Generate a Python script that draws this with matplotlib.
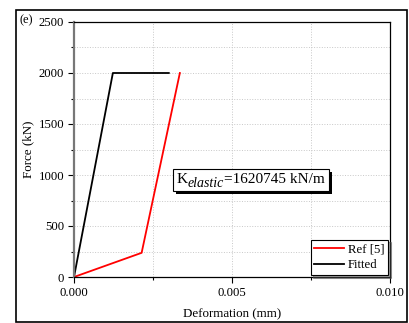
import matplotlib
matplotlib.use('Agg')
import matplotlib.pyplot as plt
from matplotlib.patches import Rectangle
from matplotlib.ticker import MultipleLocator, FormatStrFormatter
from matplotlib.transforms import offset_copy

plt.rcParams['font.family'] = 'Liberation Serif'

# values
ref_x = [0.0, 0.00214, 0.00335]
ref_y = [0.0, 237.0, 2000.0]
fit_x = [0.0, 0.00123, 0.0030]
fit_y = [0.0, 2000.0, 2000.0]
k_parts = ['K', 'elastic', '=1620745 kN/m']

W, H = 410, 323
fig = plt.figure(figsize=(W / 100, H / 100), dpi=100)
ax = fig.add_axes([74 / W, 1 - 277 / H, 316 / W, 255 / H])

ax.plot(ref_x, ref_y, color='red', lw=1.3, label='Ref [5]')
ax.plot(fit_x, fit_y, color='black', lw=1.3, label='Fitted')

ax.set_xlim(0, 0.010)
ax.set_ylim(0, 2500)
ax.xaxis.set_major_locator(MultipleLocator(0.005))
ax.xaxis.set_minor_locator(MultipleLocator(0.0025))
ax.yaxis.set_major_locator(MultipleLocator(500))
ax.yaxis.set_minor_locator(MultipleLocator(250))
ax.xaxis.set_major_formatter(FormatStrFormatter('%.3f'))
ax.grid(True, which='both', color='#c8c8c8', ls=':', lw=0.7)
ax.tick_params(which='major', direction='out', length=4, width=0.8, labelsize=9.2, pad=3)
ax.tick_params(which='minor', direction='out', length=2.5, width=0.8)
ax.spines['left'].set_color('#777777')
ax.spines['left'].set_linewidth(1.6)
for s in ['top', 'right', 'bottom']:
    ax.spines[s].set_linewidth(0.9)

ax.set_xlabel('Deformation (mm)', fontsize=9.4, labelpad=7)
ax.set_ylabel('Force (kN)', fontsize=9.4, labelpad=3)

leg = ax.legend(loc='lower right', fontsize=9.2, frameon=True, fancybox=False,
                shadow=True, edgecolor='black', borderpad=0.3, handlelength=2.3,
                handletextpad=0.3, labelspacing=0.3, borderaxespad=0.15)
leg.get_frame().set_linewidth(0.8)

# K_elastic label built from pieces so the subscript stays near full size
kx, ky = 0.00323, 918
r = fig.canvas.get_renderer()
t1 = ax.text(kx, ky, k_parts[0], fontsize=11, va='baseline', ha='left', zorder=7)
w1 = t1.get_window_extent(r).width
t2 = ax.text(kx, ky, k_parts[1], fontsize=10, style='italic', va='baseline', ha='left',
             zorder=7, transform=offset_copy(ax.transData, fig, x=w1 + 0.5, y=-4, units='dots'))
w2 = t2.get_window_extent(r).width
t3 = ax.text(kx, ky, k_parts[2], fontsize=11, va='baseline', ha='left', zorder=7,
             transform=offset_copy(ax.transData, fig, x=w1 + w2 + 1, y=0, units='dots'))

ext = [t.get_window_extent(r) for t in (t1, t2, t3)]
x0 = ext[0].x0 - 3
x1 = ext[2].x1 + 4
y0 = min(e.y0 for e in ext) - 1
y1 = ext[0].y1 + 4
inv = ax.transAxes.inverted()
(ax0, ay0), (ax1, ay1) = inv.transform([(x0, y0), (x1, y1)])
(bx0, by0), (bx1, by1) = inv.transform([(x0 + 3, y0 - 3), (x1 + 3, y1 - 3)])
ax.add_patch(Rectangle((bx0, by0), bx1 - bx0, by1 - by0, transform=ax.transAxes,
                       fc='black', ec='none', zorder=5))
ax.add_patch(Rectangle((ax0, ay0), ax1 - ax0, ay1 - ay0, transform=ax.transAxes,
                       fc='white', ec='black', lw=0.8, zorder=6))

fig.text(20 / W, 1 - 20 / H, '(e)', fontsize=9, va='center', ha='left')
fig.patches.append(Rectangle((16 / W, 1 - 322 / H), 391 / W, 312 / H,
                             transform=fig.transFigure, fill=False,
                             ec='black', lw=1.2))

fig.savefig('out.png', dpi=100)
